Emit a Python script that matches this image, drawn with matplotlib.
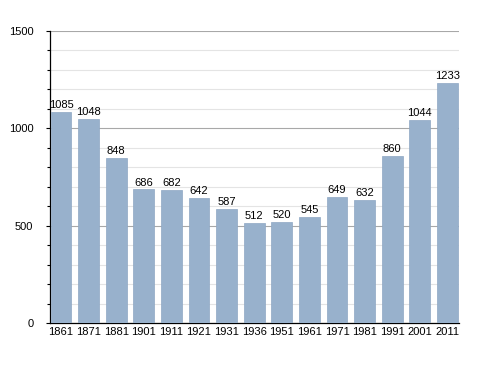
import matplotlib
matplotlib.use("Agg")
import matplotlib.pyplot as plt
from matplotlib.ticker import MultipleLocator

years = ["1861", "1871", "1881", "1901", "1911", "1921", "1931", "1936",
         "1951", "1961", "1971", "1981", "1991", "2001", "2011"]
population = [1085, 1048, 848, 686, 682, 642, 587, 512,
              520, 545, 649, 632, 860, 1044, 1233]

plt.rcParams['font.family'] = ['Liberation Sans', 'DejaVu Sans']

fig = plt.figure(figsize=(4.88, 3.73), dpi=100)
ax = fig.add_axes([0.1025, 0.134, 0.838, 0.783])

x = range(len(years))
ax.bar(x, population, width=0.75, color="#98b1cc", edgecolor="#8ea7c3",
       linewidth=0.5, zorder=3)
for i, v in zip(x, population):
    ax.text(i, v + 10, str(v), ha="center", va="bottom", fontsize=8, zorder=4)

ax.set_xlim(-0.4, 14.42)
ax.set_ylim(0, 1500)
ax.set_xticks(list(x))
ax.set_xticklabels(years, fontsize=8)
ax.yaxis.set_major_locator(MultipleLocator(500))
ax.yaxis.set_minor_locator(MultipleLocator(100))
ax.tick_params(axis="y", which="major", labelsize=8, length=3, width=0.8, pad=9)
ax.tick_params(axis="y", which="minor", length=2, width=0.8)
ax.tick_params(axis="x", length=0, pad=3)

ax.grid(axis="y", which="major", color="#a8a8a8", linewidth=0.8, zorder=1)
ax.grid(axis="y", which="minor", color="#e4e4e4", linewidth=0.8, zorder=1)

for s in ["top", "right"]:
    ax.spines[s].set_visible(False)
ax.spines["left"].set_linewidth(0.9)
ax.spines["bottom"].set_linewidth(0.9)

fig.savefig("out.png", dpi=100)
